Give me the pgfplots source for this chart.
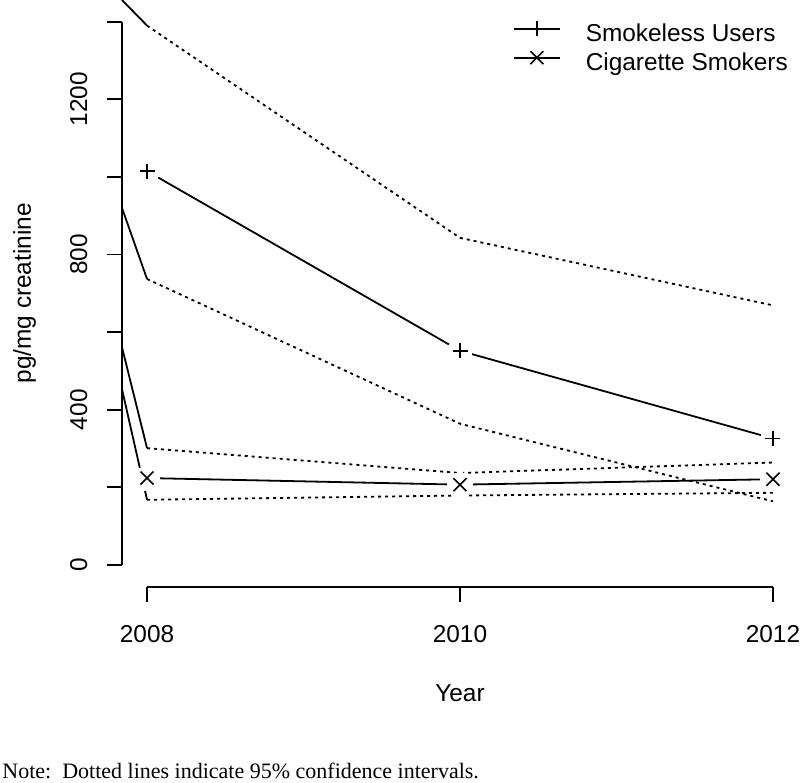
\documentclass[border=0pt]{standalone}
\usepackage{fontspec}
\setmainfont{Liberation Sans}
\newfontfamily\notefont{Liberation Serif}
\usepackage{pgfplots}
\pgfplotsset{compat=1.18}
\tikzset{
  meanline/.style={black, line width=0.9pt},
  ciline/.style={black, line width=0.9pt, dash pattern=on 1.5pt off 2pt},
  edgeline/.style={black, line width=0.9pt},
}
\pgfplotsset{
  gapmask/.style={only marks, white, mark=*, mark size=6.2pt, mark options={draw=white, fill=white, line width=0pt}},
}
\begin{document}
\fontsize{12.2}{14.6}\selectfont
\begin{tikzpicture}
\begin{axis}[
  set layers=standard,
  at={(0pt,0pt)}, anchor=south west,
  scale only axis, width=338pt, height=293.35pt,
  xmin=2007.84, xmax=2012.16, ymin=-56, ymax=1456,
  clip=false,
  axis x line*=bottom, axis y line*=left,
  axis line style={draw=none},
  xtick={2008,2010,2012}, xticklabels={2008,2010,2012},
  ytick={0,200,...,1400}, yticklabels={0,,400,,800,,1200,},
  tick align=outside, major tick length=7.5pt,
  every tick/.style={black, line width=0.9pt},
  /pgf/number format/assume math mode=true,
  xticklabel style={anchor=base, yshift=-20.5pt},
  yticklabel style={xshift=-10pt, rotate=90, anchor=base},
  every axis x label/.style={at={(axis description cs:0.5,0)}, anchor=base, yshift=-57.5pt},
  every axis y label/.style={at={(axis description cs:0,0.5)}, xshift=-45.5pt, rotate=90, anchor=base},
  xlabel={Year}, ylabel={pg/mg creatinine},
  legend style={draw=none, fill=none, at={(axis description cs:0.5784,0.9636)}, anchor=north west,
    inner sep=0pt, outer sep=0pt, row sep=1.2pt, column sep=12.5pt,
    nodes={inner sep=0pt, text height=9.3pt, text depth=3.4pt}},
  legend cell align=left,
  legend image code/.code={\draw[mark repeat=2, mark phase=2, #1] plot coordinates {(0pt,3.6pt) (11.5pt,3.6pt) (23pt,3.6pt)};},
]
% axis lines in R style
\draw[black, line width=0.9pt] (axis cs:2007.84,0) -- (axis cs:2007.84,1400);
\draw[black, line width=0.9pt] (axis cs:2008,-56) -- (axis cs:2012,-56);

\addlegendimage{black, line width=0.9pt, mark=+, mark size=3.75pt, mark options={line width=0.8pt}}
\addlegendentry{Smokeless Users}
\addlegendimage{black, line width=0.9pt, mark=x, mark size=4.6pt, mark options={line width=0.8pt}}
\addlegendentry{Cigarette Smokers}

% Smokeless users: mean (type "b": gaps round the points)
\addplot[meanline, on layer=axis grid, forget plot] coordinates {(2008,1015) (2010,552) (2012,326)};
\addplot[gapmask, on layer=pre main, forget plot] coordinates {(2008,1015) (2010,552) (2012,326)};
\addplot[only marks, black, mark=+, mark size=3.75pt, mark options={black, line width=0.8pt}, forget plot] coordinates {(2008,1015) (2010,552) (2012,326)};

% Cigarette smokers: mean
\addplot[meanline, on layer=axis grid, forget plot] coordinates {(2008,224) (2010,207) (2012,221)};
\addplot[gapmask, on layer=pre main, forget plot] coordinates {(2008,224) (2010,207) (2012,221)};
\addplot[only marks, black, mark=x, mark size=4.6pt, mark options={black, line width=0.8pt}, forget plot] coordinates {(2008,224) (2010,207) (2012,221)};

% Smokeless users: CI
\addplot[edgeline, forget plot] coordinates {(2007.84,1456) (2008,1390)};
\addplot[ciline, forget plot] coordinates {(2008,1390) (2010,843) (2012,669)};
\addplot[edgeline, forget plot] coordinates {(2007.84,920) (2008,737)};
\addplot[ciline, forget plot] coordinates {(2008,737) (2010,364) (2012,164)};

% Cigarette smokers: CI
\addplot[edgeline, forget plot] coordinates {(2007.84,561) (2008,301)};
\addplot[ciline, forget plot] coordinates {(2008,301) (2010,237) (2012,264)};
\addplot[edgeline, forget plot] coordinates {(2007.84,453) (2008,168)};
\addplot[ciline, forget plot] coordinates {(2008,168) (2010,179) (2012,186)};
\end{axis}
\node[anchor=base west, inner sep=0pt, font=\notefont\fontsize{11}{13}\selectfont] at (-60pt,-96pt) {Note:\ \ Dotted lines indicate 95\% confidence intervals.};
\pgfresetboundingbox
\useasboundingbox (-61pt,-98.15pt) rectangle (339pt,293.35pt);
\end{tikzpicture}
\end{document}
